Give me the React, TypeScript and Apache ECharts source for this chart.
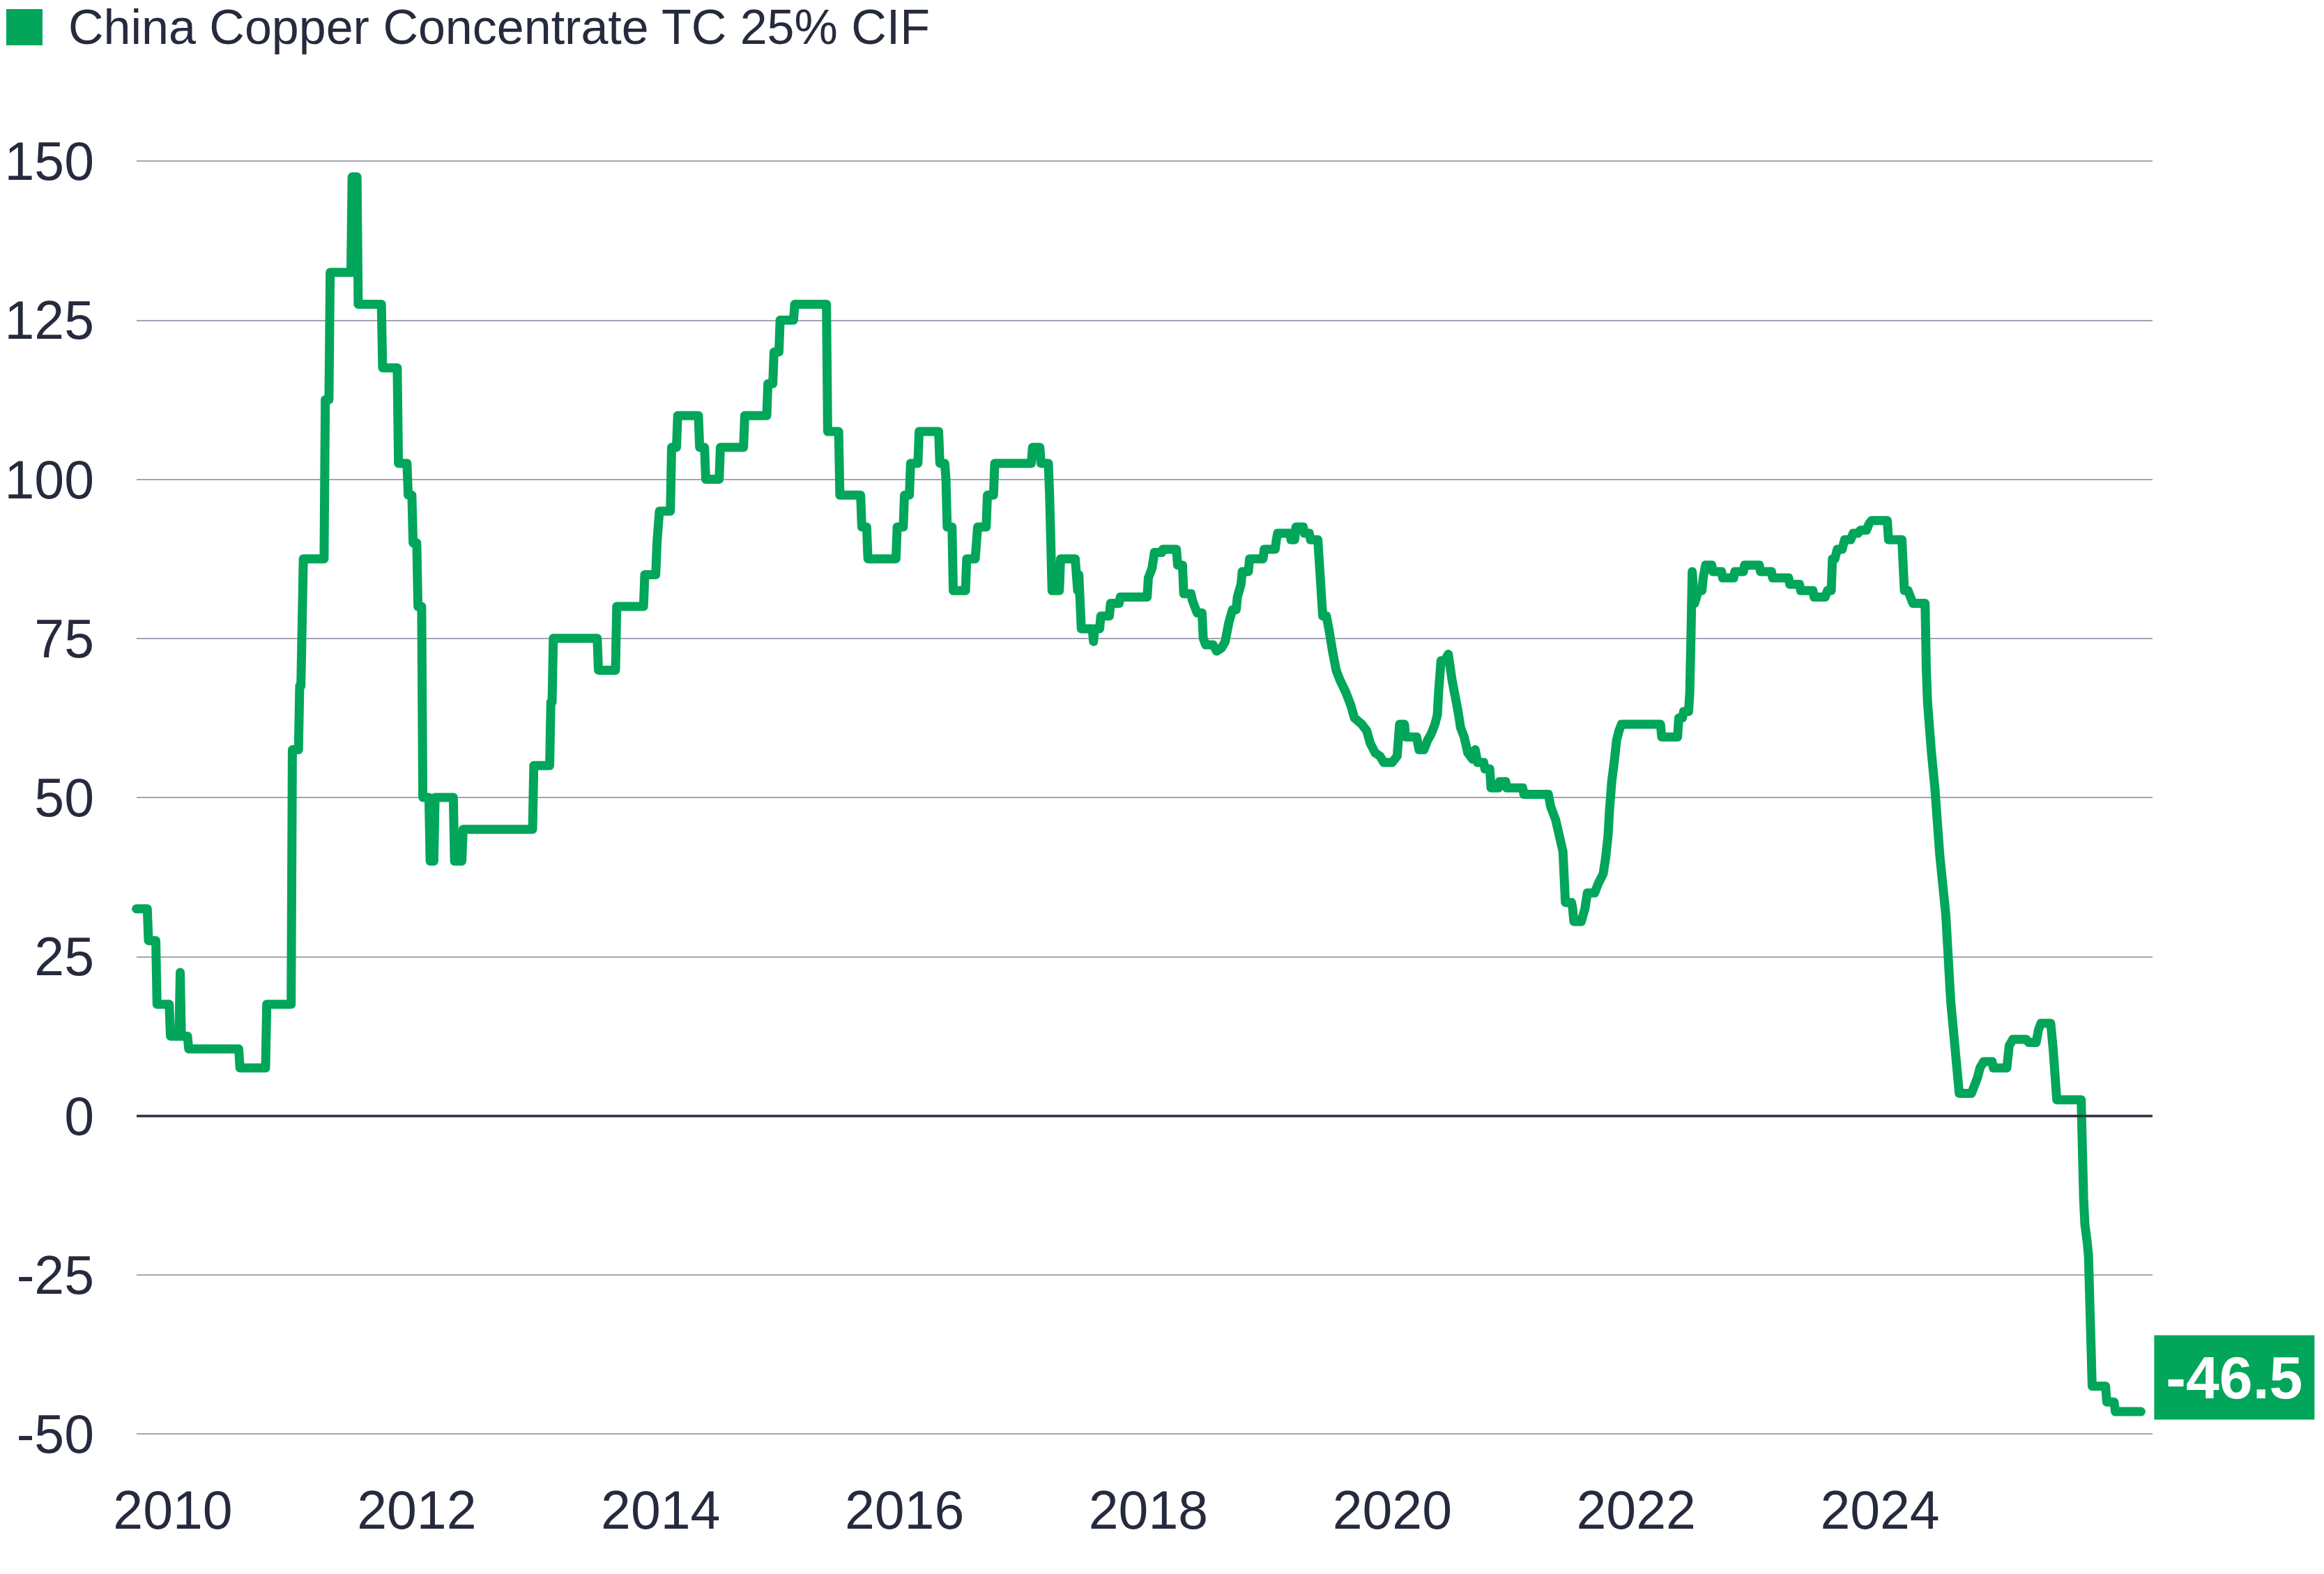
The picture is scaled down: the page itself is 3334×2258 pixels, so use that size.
import React, { useEffect, useRef } from "react";
import * as echarts from "echarts";

const seriesName = "China Copper Concentrate TC 25% CIF";

// Observation dates as decimal years
const years: number[] = [
  2009.70, 2009.79, 2009.80, 2009.86, 2009.87, 2009.97, 2009.98, 2010.05, 2010.06, 2010.07,
  2010.12, 2010.13, 2010.54, 2010.55, 2010.76, 2010.77, 2010.97, 2010.98, 2011.03, 2011.04,
  2011.05, 2011.06, 2011.07, 2011.24, 2011.25, 2011.28, 2011.29, 2011.46, 2011.47, 2011.51,
  2011.52, 2011.71, 2011.72, 2011.84, 2011.85, 2011.92, 2011.93, 2011.96, 2011.97, 2012.00,
  2012.01, 2012.04, 2012.05, 2012.10, 2012.11, 2012.14, 2012.15, 2012.30, 2012.31, 2012.37,
  2012.38, 2012.95,
  2012.96, 2013.09, 2013.10, 2013.11, 2013.12, 2013.48, 2013.49, 2013.63, 2013.64, 2013.86,
  2013.87, 2013.96, 2013.97, 2013.99, 2014.08, 2014.09, 2014.13, 2014.14, 2014.31, 2014.32,
  2014.36, 2014.37, 2014.48, 2014.49, 2014.68, 2014.69, 2014.87, 2014.88, 2014.92, 2014.93,
  2014.97, 2014.98, 2015.09, 2015.10, 2015.36, 2015.37, 2015.46, 2015.47, 2015.64, 2015.65,
  2015.69, 2015.70, 2015.93, 2015.94, 2015.99, 2016.00, 2016.04, 2016.05, 2016.11, 2016.12,
  2016.28, 2016.29, 2016.33, 2016.34, 2016.35, 2016.39, 2016.40, 2016.50, 2016.51, 2016.58,
  2016.59, 2016.60, 2016.67, 2016.68, 2016.73, 2016.74, 2017.04, 2017.05, 2017.11, 2017.12,
  2017.18, 2017.19, 2017.21, 2017.27, 2017.28, 2017.40, 2017.42, 2017.43, 2017.45, 2017.54,
  2017.55, 2017.56, 2017.60, 2017.61, 2017.68, 2017.69, 2017.76, 2017.77, 2017.99, 2018.00,
  2018.03, 2018.05, 2018.11, 2018.12, 2018.23,
  2018.24, 2018.28, 2018.29, 2018.35, 2018.36, 2018.40, 2018.44, 2018.45, 2018.47, 2018.53,
  2018.56, 2018.60, 2018.63, 2018.66, 2018.69, 2018.72, 2018.73, 2018.76, 2018.77, 2018.82,
  2018.83, 2018.94, 2018.95, 2019.04, 2019.05, 2019.06, 2019.16, 2019.17, 2019.20, 2019.21,
  2019.27, 2019.28, 2019.32, 2019.33, 2019.39, 2019.41, 2019.43, 2019.46, 2019.48, 2019.51,
  2019.54, 2019.57, 2019.62, 2019.66, 2019.69, 2019.75, 2019.79, 2019.82, 2019.86, 2019.90,
  2019.93, 2020.00, 2020.04, 2020.06, 2020.10, 2020.11, 2020.20, 2020.22, 2020.26, 2020.29,
  2020.32, 2020.35, 2020.37, 2020.38, 2020.40, 2020.43, 2020.46, 2020.49, 2020.52, 2020.54,
  2020.56, 2020.59, 2020.62, 2020.66, 2020.68, 2020.70, 2020.75, 2020.76, 2020.80, 2020.81,
  2020.87, 2020.88, 2020.93,
  2020.94, 2021.07, 2021.08, 2021.28, 2021.30, 2021.34, 2021.40, 2021.42, 2021.47, 2021.48,
  2021.49, 2021.55, 2021.58, 2021.60, 2021.66, 2021.69, 2021.73, 2021.75, 2021.77, 2021.78,
  2021.80, 2021.82, 2021.84, 2021.86, 2021.88, 2022.20, 2022.21, 2022.34, 2022.35, 2022.38,
  2022.39, 2022.43, 2022.44, 2022.45, 2022.46, 2022.48, 2022.51, 2022.54, 2022.55, 2022.57,
  2022.62, 2022.63, 2022.70, 2022.71, 2022.80, 2022.81, 2022.88, 2022.89, 2023.01, 2023.02,
  2023.11, 2023.12, 2023.25, 2023.26, 2023.34, 2023.35, 2023.45, 2023.46, 2023.55, 2023.57,
  2023.60, 2023.61, 2023.63, 2023.65, 2023.69, 2023.71, 2023.76, 2023.78, 2023.82, 2023.84,
  2023.89, 2023.91, 2023.93, 2024.06, 2024.07, 2024.18, 2024.20, 2024.23, 2024.25, 2024.27,
  2024.37, 2024.38, 2024.39, 2024.42, 2024.45, 2024.49, 2024.54, 2024.58, 2024.65, 2024.75,
  2024.77, 2024.80, 2024.82, 2024.85, 2024.92, 2024.93, 2025.04, 2025.06, 2025.09, 2025.20,
  2025.22, 2025.28, 2025.30, 2025.32, 2025.40, 2025.42, 2025.45, 2025.65, 2025.67, 2025.68,
  2025.70, 2025.71, 2025.74, 2025.85, 2025.86, 2025.92, 2025.93, 2026.14,
];

// China copper concentrate TC (USD/t)
const tcValues: number[] = [
  32.5, 32.5, 27.5, 27.5, 17.5, 17.5, 12.5, 12.5, 22.5, 12.5,
  12.5, 10.5, 10.5, 7.5, 7.5, 17.5, 17.5, 57.5, 57.5, 67.5,
  67.5, 77.5, 87.5, 87.5, 112.5, 112.5, 132.5, 132.5, 147.5, 147.5,
  127.5, 127.5, 117.5, 117.5, 102.5, 102.5, 97.5, 97.5, 90, 90,
  80, 80, 50, 50, 40, 40, 50, 50, 40, 40,
  45, 45,
  55, 55, 65, 65, 75, 75, 70, 70, 80, 80,
  85, 85, 90, 95, 95, 105, 105, 110, 110, 105,
  105, 100, 100, 105, 105, 110, 110, 115, 115, 120,
  120, 125, 125, 127.5, 127.5, 107.5, 107.5, 97.5, 97.5, 92.5,
  92.5, 87.5, 87.5, 92.5, 92.5, 97.5, 97.5, 102.5, 102.5, 107.5,
  107.5, 102.5, 102.5, 100, 92.5, 92.5, 82.5, 82.5, 87.5, 87.5,
  90, 92.5, 92.5, 97.5, 97.5, 102.5, 102.5, 105, 105, 102.5,
  102.5, 97.5, 82.5, 82.5, 87.5, 87.5, 82.5, 85, 76.5, 76.5,
  74.5, 76.5, 76.5, 78.5, 78.5, 80.5, 80.5, 81.5, 81.5, 84.5,
  86, 88.5, 88.5, 89, 89,
  86.5, 86.5, 82, 82, 81, 79, 79, 75, 74, 74,
  73, 73.5, 74.5, 77.5, 79.5, 79.5, 81.5, 83.5, 85.5, 85.5,
  87.5, 87.5, 89, 89, 90.5, 91.5, 91.5, 90.5, 90.5, 92.5,
  92.5, 91.5, 91.5, 90.5, 90.5, 84.5, 78.5, 78.5, 76.5, 73,
  70, 68.5, 66.5, 64.5, 62.5, 61.5, 60.5, 58.5, 57, 56.5,
  55.5, 55.5, 56.5, 61.5, 61.5, 59.5, 59.5, 57.5, 57.5, 59,
  60, 61.5, 63, 66.5, 71.5, 71.5, 72.5, 68.5, 65.5, 63.5,
  61, 59.5, 57, 56, 57.5, 55.5, 55.5, 54.5, 54.5, 51.5,
  51.5, 52.5, 52.5,
  51.5, 51.5, 50.5, 50.5, 48.5, 46.5, 41.5, 33.5, 33.5, 32.5,
  30.5, 30.5, 32.5, 35, 35, 36.5, 38, 40.5, 44, 47.5,
  52.5, 55.5, 59, 60.5, 61.5, 61.5, 59.5, 59.5, 62.5, 62.5,
  63.5, 63.5, 66.5, 75.5, 85.5, 80.5, 82.5, 82.5, 84.5, 86.5,
  86.5, 85.5, 85.5, 84.5, 84.5, 85.5, 85.5, 86.5, 86.5, 85.5,
  85.5, 84.5, 84.5, 83.5, 83.5, 82.5, 82.5, 81.5, 81.5, 82.5,
  82.5, 87.5, 87.5, 89, 89, 90.5, 90.5, 91.5, 91.5, 92,
  92, 93, 93.5, 93.5, 90.5, 90.5, 82.5, 82.5, 81.5, 80.5,
  80.5, 70, 65, 57.5, 51.5, 41, 31.5, 18, 3.5, 3.5,
  4.5, 6, 7.5, 8.5, 8.5, 7.5, 7.5, 11, 12, 12,
  11.5, 11.5, 13.5, 14.5, 14.5, 10.5, 2.5, 2.5, -13, -17,
  -20, -22, -42.5, -42.5, -45, -45, -46.5, -46.5,
];

const yTicks = { min: -50, max: 150, step: 25 };
const xTickYears: number[] = [2010, 2012, 2014, 2016, 2018, 2020, 2022, 2024];
const xRange = { min: 2009.7027, max: 2026.2351 };

const GREEN = "#02A65A";
const TEXT = "#262a3d";
const GRID = "#a3a5b6";
const ZERO = "#2b2d40";
const FONT = "'Liberation Sans', Arial, sans-serif";

export default function App() {
  const ref = useRef<HTMLDivElement>(null);

  useEffect(() => {
    if (!ref.current) return;
    const chart = echarts.init(ref.current, undefined, { renderer: "svg" });
    const data = years.map((y, i) => [y, tcValues[i]]);

    chart.setOption({
      animation: false,
      backgroundColor: "#ffffff",
      textStyle: { fontFamily: FONT },
      legend: {
        data: [seriesName],
        left: 9,
        top: 0,
        padding: 0,
        icon: "rect",
        itemWidth: 52,
        itemHeight: 52,
        selectedMode: false,
        textStyle: {
          fontFamily: FONT,
          fontSize: 70,
          lineHeight: 78,
          color: TEXT,
          padding: [0, 0, 0, 32],
        },
      },
      grid: {
        left: 196,
        right: 246,
        top: 231,
        bottom: 201,
        containLabel: false,
        outerBoundsMode: "none",
      },
      xAxis: {
        type: "value",
        min: xRange.min,
        max: xRange.max,
        axisLine: { show: false },
        axisTick: { show: false },
        splitLine: { show: false },
        axisLabel: {
          customValues: xTickYears,
          formatter: (v: number) => String(Math.round(v)),
          fontSize: 77,
          color: TEXT,
          fontFamily: FONT,
          margin: 70,
        },
      },
      yAxis: {
        type: "value",
        min: yTicks.min,
        max: yTicks.max,
        interval: yTicks.step,
        axisLine: { show: false },
        axisTick: { show: false },
        axisLabel: {
          fontSize: 77,
          color: TEXT,
          fontFamily: FONT,
          margin: 61,
        },
        splitLine: { show: true, lineStyle: { color: GRID, width: 2 } },
      },
      series: [
        {
          name: "zero",
          type: "line",
          data: [],
          z: 1,
          silent: true,
          markLine: {
            silent: true,
            symbol: "none",
            label: { show: false },
            lineStyle: { color: ZERO, width: 3.5, type: "solid" },
            data: [{ yAxis: 0 }],
          },
        },
        {
          name: seriesName,
          type: "line",
          z: 3,
          data,
          showSymbol: false,
          symbol: "none",
          color: GREEN,
          lineStyle: { color: GREEN, width: 13, cap: "round", join: "round" },
          endLabel: {
            show: true,
            formatter: (p: any) => Number(p.value[1]).toFixed(1),
            color: "#ffffff",
            fontFamily: FONT,
            fontWeight: "bold",
            fontSize: 86,
            lineHeight: 88,
            backgroundColor: GREEN,
            padding: [17, 17, 16, 17],
            distance: 19,
            offset: [0, -49],
            align: "left",
            verticalAlign: "middle",
          },
        },
      ],
    });

    return () => chart.dispose();
  }, []);

  return (
    <div
      ref={ref}
      style={{ position: "fixed", left: 0, top: 0, width: 3334, height: 2258 }}
    />
  );
}
